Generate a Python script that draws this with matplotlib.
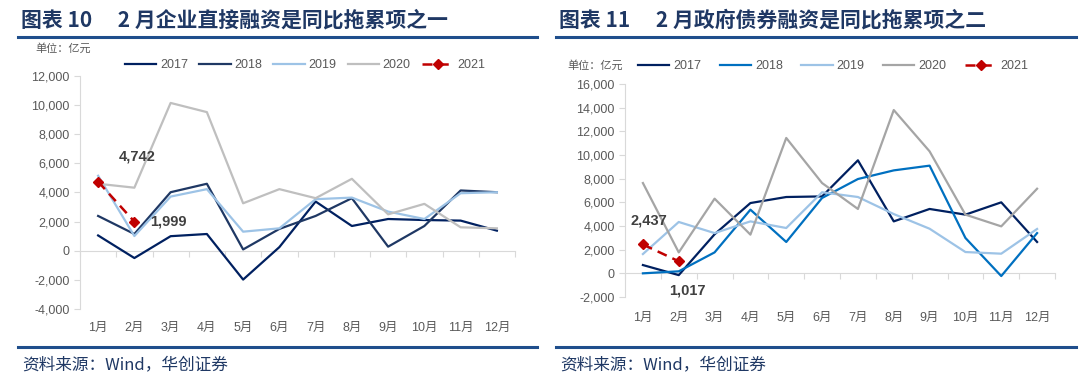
"""Two line charts: corporate direct financing and government bond financing by month"""

import matplotlib.pyplot as plt
from matplotlib.ticker import FuncFormatter

plt.rcParams["font.family"] = ["Liberation Sans", "Noto Sans CJK SC", "DejaVu Sans"]

months = ["1月", "2月", "3月", "4月", "5月", "6月", "7月", "8月", "9月", "10月", "11月", "12月"]

# left chart: corporate direct financing (100m yuan)
corp_2017 = [1050, -500, 1000, 1150, -1980, 250, 3380, 1700, 2180, 2110, 2070, 1380]
corp_2018 = [2390, 1150, 4020, 4600, 90, 1500, 2390, 3610, 280, 1700, 4140, 4020]
corp_2019 = [5150, 1010, 3720, 4230, 1310, 1540, 3540, 3650, 2690, 2180, 3950, 4020]
corp_2020 = [4600, 4330, 10150, 9520, 3260, 4230, 3610, 4940, 2500, 3220, 1610, 1540]
corp_2021 = [4742, 1999]

# right chart: government bond financing (100m yuan)
gov_2017 = [700, -150, 3300, 5940, 6450, 6500, 9550, 4390, 5440, 4960, 6000, 2650]
gov_2018 = [0, 170, 1770, 5380, 2650, 6370, 7970, 8700, 9100, 2990, -230, 3400]
gov_2019 = [1630, 4340, 3400, 4390, 3830, 6850, 6450, 5010, 3770, 1800, 1660, 3750]
gov_2020 = [7630, 1770, 6310, 3270, 11440, 7630, 5440, 13800, 10310, 4960, 3970, 7150]
gov_2021 = [2437, 1017]

W, H = 1080, 386
navy = "#1F3864"
tick_grey = "#595959"
axis_grey = "#D9D9D9"
cjk = ["Noto Sans CJK SC"]


def px(x, y):
    return x / W, 1 - y / H


def setup_axes(left, right, top, bottom, ylim, yticks, zero_frac, label_pad):
    ax = fig.add_axes([left / W, 1 - bottom / H, (right - left) / W, (bottom - top) / H])
    ax.set_xlim(-0.5, 11.5)
    ax.set_ylim(*ylim)
    ax.set_yticks(yticks)
    ax.yaxis.set_major_formatter(FuncFormatter(lambda v, p: f"{int(v):,}"))
    for s in ["top", "right", "bottom"]:
        ax.spines[s].set_visible(False)
    ax.spines["left"].set_color(axis_grey)
    ax.tick_params(axis="y", colors=axis_grey, labelcolor=tick_grey, labelsize=9, length=4)
    ax.set_xticks(range(12))
    ax.set_xticklabels(months)
    ax.tick_params(axis="x", length=0, labelcolor=tick_grey, labelsize=9, pad=label_pad)
    # zero line with category separators
    sec = ax.secondary_xaxis(zero_frac)
    sec.spines["bottom"].set_color(axis_grey)
    sec.set_xticks([i - 0.5 for i in range(13)])
    sec.tick_params(axis="x", colors=axis_grey, length=4, labelbottom=False)
    return ax


def add_legend(ax, cx, cy, spacing):
    ax.legend(loc="center", bbox_to_anchor=px(cx, cy), bbox_transform=fig.transFigure, ncol=5,
              frameon=False, fontsize=9, handlelength=2.5, columnspacing=spacing,
              handletextpad=0.3, labelcolor=tick_grey)


fig = plt.figure(figsize=(W / 100, H / 100), dpi=100)

# headers, rules and footers
for x0, x1, title in [
    (18, 537, "图表 10\u3000 2 月企业直接融资是同比拖累项之一"),
    (556, 1076, "图表 11\u3000 2 月政府债券融资是同比拖累项之二"),
]:
    fig.text(*px(x0 + 3, 20), title, fontsize=15, fontweight="bold", color=navy,
             family=cjk, va="center", ha="left")
    fig.add_artist(plt.Line2D([x0 / W, x1 / W], [1 - 37 / H] * 2, color="#1F4E8C", lw=2.2))
    fig.add_artist(plt.Line2D([x0 / W, x1 / W], [1 - 347 / H] * 2, color="#1F4E8C", lw=2.2))
    fig.text(*px(x0 + 4, 365), "资料来源：Wind，华创证券", fontsize=12, color=navy,
             family=cjk, style="italic", va="center", ha="left")

fig.text(*px(35, 48), "单位：亿元", fontsize=8, color=tick_grey, family=cjk, va="center", ha="left")
fig.text(*px(567, 65), "单位：亿元", fontsize=8, color=tick_grey, family=cjk, va="center", ha="left")

x = range(12)

# left chart
ax1 = setup_axes(80, 515, 76, 309, (-4000, 12000), range(-4000, 12001, 2000), 0.25, 9.5)
ax1.plot(x, corp_2017, color="#002060", lw=1.6, label="2017")
ax1.plot(x, corp_2018, color="#1F3864", lw=1.6, label="2018")
ax1.plot(x, corp_2019, color="#9DC3E6", lw=1.6, label="2019")
ax1.plot(x, corp_2020, color="#BFBFBF", lw=1.6, label="2020")
ax1.plot(range(2), corp_2021, color="#C00000", lw=1.8, ls=(0, (4, 2.5)), marker="D",
         markersize=5, label="2021")
ax1.annotate(f"{corp_2021[0]:,}", (0, corp_2021[0]), xytext=(15, 18), textcoords="offset points",
             fontsize=10.5, fontweight="bold", color="#404040", va="center")
ax1.annotate(f"{corp_2021[1]:,}", (1, corp_2021[1]), xytext=(11, 0), textcoords="offset points",
             fontsize=10.5, fontweight="bold", color="#404040", va="center")
add_legend(ax1, 305, 65, 0.9)

# right chart
ax2 = setup_axes(625, 1055, 84, 297, (-2000, 16000), range(-2000, 16001, 2000), 2000 / 18000, 11)
ax2.plot(x, gov_2017, color="#002060", lw=1.6, label="2017")
ax2.plot(x, gov_2018, color="#0070C0", lw=1.6, label="2018")
ax2.plot(x, gov_2019, color="#9DC3E6", lw=1.6, label="2019")
ax2.plot(x, gov_2020, color="#A5A5A5", lw=1.6, label="2020")
ax2.plot(range(2), gov_2021, color="#C00000", lw=1.8, ls=(0, (4, 2.5)), marker="D",
         markersize=5, label="2021")
ax2.annotate(f"{gov_2021[0]:,}", (0, gov_2021[0]), xytext=(4, 17), textcoords="offset points",
             fontsize=10.5, fontweight="bold", color="#404040", va="center", ha="center")
ax2.annotate(f"{gov_2021[1]:,}", (1, gov_2021[1]), xytext=(6, -21), textcoords="offset points",
             fontsize=10.5, fontweight="bold", color="#404040", va="center", ha="center")
add_legend(ax2, 833, 66, 1.5)

fig.savefig("out.png", dpi=100)
